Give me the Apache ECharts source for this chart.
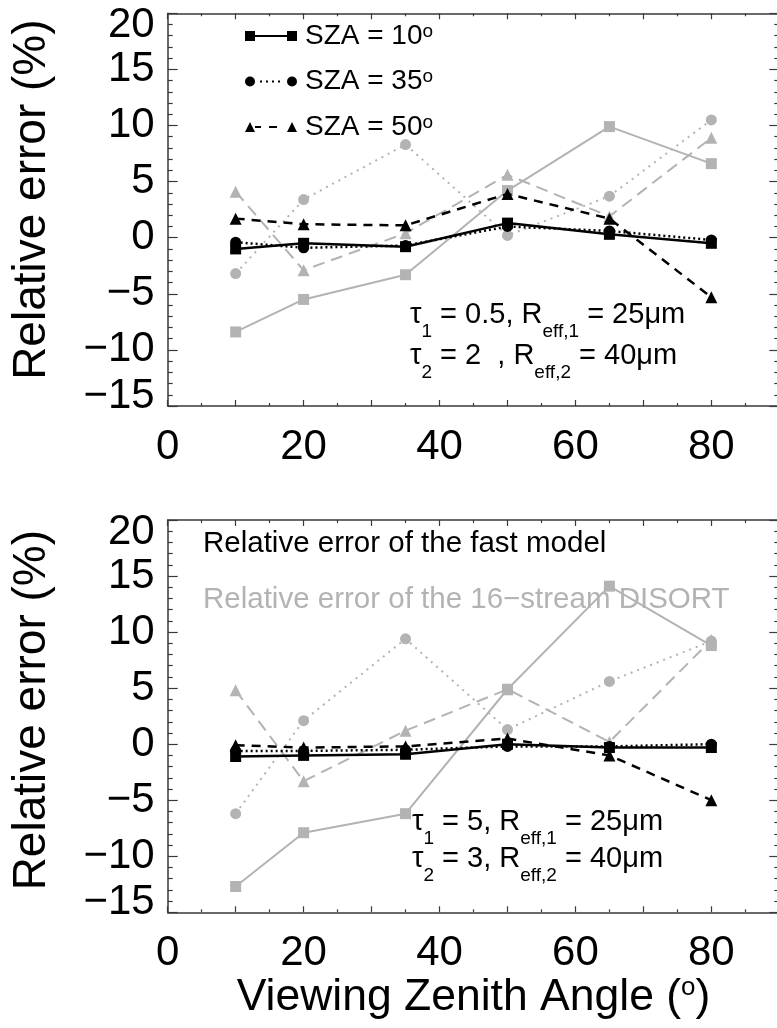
<!DOCTYPE html>
<html><head><meta charset="utf-8">
<script src="https://cdn.jsdelivr.net/npm/echarts@6/dist/echarts.min.js"></script>
<style>html,body{margin:0;padding:0;background:#fff}#c{width:777px;height:1028px}</style>
</head><body><div id="c"></div>
<script>
// ---------- data ----------
const vza = [10, 20, 35, 50, 65, 80];
const xLabelTicks = [0, 20, 40, 60, 80];
const yLabelTicks = [-15, -10, -5, 0, 5, 10, 15, 20];
const legendNames = ['SZA = 10°', 'SZA = 35°', 'SZA = 50°'];
const legendTexts = ['SZA = 10', 'SZA = 35', 'SZA = 50'];

// top panel: tau1=0.5, tau2=2
const topFast10 = [-1.0, -0.5, -0.8, 1.3, 0.3, -0.5];
const topFast35 = [-0.4, -0.9, -0.7, 1.0, 0.6, -0.2];
const topFast50 = [1.7, 1.2, 1.1, 3.9, 1.7, -5.3];
const topDis10 = [-8.4, -5.5, -3.3, 4.2, 9.9, 6.6];
const topDis35 = [-3.2, 3.4, 8.3, 0.2, 3.7, 10.5];
const topDis50 = [4.1, -2.9, 0.4, 5.6, 1.9, 8.9];

// bottom panel: tau1=5, tau2=3
const botFast10 = [-1.1, -1.0, -0.9, 0.0, -0.3, -0.3];
const botFast35 = [-0.6, -0.6, -0.5, -0.2, -0.2, 0.0];
const botFast50 = [-0.1, -0.3, -0.2, 0.5, -1.0, -5.0];
const botDis10 = [-12.7, -7.9, -6.2, 4.9, 14.1, 8.8];
const botDis35 = [-6.2, 2.1, 9.4, 1.3, 5.6, 9.2];
const botDis50 = [4.8, -3.3, 1.2, 4.9, 0.2, 9.3];

// ---------- styles ----------
const FONT = "'Liberation Sans', Arial, Helvetica, sans-serif";
const GREY = '#b3b3b3';
const AXC = '#3a3a3a';

const sqIcon = 'path://M0,0H10V10H0Z M42,0H52V10H42Z M10,4H42V6H10Z';
const ciIcon = 'path://M0,5A5,5 0 1,1 10,5A5,5 0 1,1 0,5Z M42,5A5,5 0 1,1 52,5A5,5 0 1,1 42,5Z M15,4H17V6H15Z M21,4H23V6H21Z M27,4H29V6H27Z M33,4H35V6H33Z';
const trIcon = 'path://M0,10L5,0L10,10Z M42,10L47,0L52,10Z M10,4H16V6H10Z M24,4H32V6H24Z';

const fmtNum = v => (v < 0 ? '\u2212' + Math.abs(v) : String(v));

function mkX(gi, pos, showLabel) {
  return {
    type: 'value', gridIndex: gi, position: pos, min: 0, max: 90, interval: 10,
    axisLine: { show: true, onZero: false, lineStyle: { color: AXC, width: 1.5 } },
    axisTick: { show: true, inside: true, length: 6, lineStyle: { color: AXC, width: 1.2 } },
    minorTick: { show: true, splitNumber: 2, length: 3, lineStyle: { color: AXC, width: 1.2 } },
    splitLine: { show: false },
    axisLabel: {
      show: showLabel, margin: 20, fontSize: 42, color: '#000', fontFamily: FONT,
      formatter: v => (xLabelTicks.indexOf(v) >= 0 ? String(v) : '')
    }
  };
}
function mkY(gi, pos, showLabel, namePad) {
  return {
    type: 'value', gridIndex: gi, position: pos, min: -15, max: 20, interval: 5,
    axisLine: { show: true, onZero: false, lineStyle: { color: AXC, width: 1.5 } },
    axisTick: { show: true, inside: true, length: 10, lineStyle: { color: AXC, width: 1.2 } },
    minorTick: { show: true, splitNumber: 5, length: 5, lineStyle: { color: AXC, width: 1.2 } },
    splitLine: { show: false },
    name: showLabel ? 'Relative error (%)' : '',
    nameLocation: 'middle', nameGap: 112,
    nameTextStyle: { fontSize: 46, color: '#000', fontFamily: FONT, padding: [0, 0, 0, namePad || 0] },
    axisLabel: {
      show: showLabel, margin: 13, fontSize: 42, color: '#000', fontFamily: FONT,
      formatter: v => {
        if (yLabelTicks.indexOf(v) < 0) return '';
        const s = fmtNum(v);
        if (v === 20) return '{hi|' + s + '}';
        if (v === -15) return '{lo|' + s + '}';
        return s;
      },
      rich: {
        hi: { fontSize: 42, fontFamily: FONT, color: '#000', padding: [24, 0, 0, 0] },
        lo: { fontSize: 42, fontFamily: FONT, color: '#000', padding: [0, 0, 20, 0] }
      }
    }
  };
}

const lineDefs = {
  fast10: { symbol: 'rect', size: 11, color: '#000', width: 2.5, type: 'solid' },
  fast35: { symbol: 'circle', size: 11, color: '#000', width: 2.5, type: [2, 3] },
  fast50: { symbol: 'triangle', size: 12, color: '#000', width: 2.5, type: [9, 7] },
  dis10: { symbol: 'rect', size: 11, color: GREY, width: 2, type: 'solid' },
  dis35: { symbol: 'circle', size: 11, color: GREY, width: 2, type: [2, 5] },
  dis50: { symbol: 'triangle', size: 12, color: GREY, width: 2, type: [12, 7] }
};

function mkS(name, vals, gi, key, z) {
  const d = lineDefs[key];
  return {
    type: 'line', name: name, xAxisIndex: gi * 2, yAxisIndex: gi * 2,
    data: vza.map((x, i) => [x, vals[i]]),
    symbol: d.symbol, symbolSize: d.size, showAllSymbol: true,
    itemStyle: { color: d.color, borderWidth: 0 },
    lineStyle: { color: d.color, width: d.width, type: d.type },
    emphasis: { disabled: true }, animation: false, z: z
  };
}

const richAnn = {
  t: { fontSize: 29, fontFamily: FONT, color: '#000', lineHeight: 32, verticalAlign: 'top' },
  s: { fontSize: 19, fontFamily: FONT, color: '#000', lineHeight: 41, verticalAlign: 'bottom' }
};
function ann(x, y, txt) {
  return { type: 'text', left: x, top: y, z: 100,
    style: { text: txt, rich: richAnn, fill: '#000', font: '29px ' + FONT } };
}

const option = {
  backgroundColor: '#fff',
  animation: false,
  grid: [
    { left: 167.7, top: 13.3, width: 611.6, height: 392.7, outerBoundsMode: 'none', containLabel: false },
    { left: 167.7, top: 520, width: 611.6, height: 392.3, outerBoundsMode: 'none', containLabel: false }
  ],
  xAxis: [
    mkX(0, 'bottom', true), mkX(0, 'top', false),
    Object.assign(mkX(1, 'bottom', true), {
      name: 'Viewing Zenith Angle ({o|o})', nameLocation: 'middle', nameGap: 63,
      nameTextStyle: { fontSize: 44.5, color: '#000', fontFamily: FONT,
        rich: { o: { fontSize: 26, fontFamily: FONT, color: '#000', verticalAlign: 'top', lineHeight: 26 } } }
    }),
    mkX(1, 'top', false)
  ],
  yAxis: [
    mkY(0, 'left', true, 20), mkY(0, 'right', false),
    mkY(1, 'left', true, 12), mkY(1, 'right', false)
  ],
  legend: {
    orient: 'vertical', left: 245, top: 22, padding: 0,
    itemWidth: 52, itemHeight: 10, itemGap: 17.5,
    selectedMode: false,
    itemStyle: { borderWidth: 0 },
    data: [
      { name: legendNames[0], icon: sqIcon },
      { name: legendNames[1], icon: ciIcon },
      { name: legendNames[2], icon: trIcon }
    ],
    formatter: n => '{m|' + legendTexts[legendNames.indexOf(n)] + '}{s|o}',
    textStyle: {
      color: '#000', fontFamily: FONT, fontSize: 28, padding: [0, 0, 0, 3],
      rich: {
        m: { fontSize: 28, fontFamily: FONT, color: '#000', lineHeight: 28, verticalAlign: 'top' },
        s: { fontSize: 19, fontFamily: FONT, color: '#000', lineHeight: 19, verticalAlign: 'top' }
      }
    }
  },
  graphic: [
    ann(410, 300, '{t|τ}{s|1}{t| = 0.5, R}{s|eff,1}{t| = 25μm}'),
    ann(410, 341, '{t|τ}{s|2}{t| = 2  , R}{s|eff,2}{t| = 40μm}'),
    ann(412, 807, '{t|τ}{s|1}{t| = 5, R}{s|eff,1}{t| = 25μm}'),
    ann(412, 844, '{t|τ}{s|2}{t| = 3, R}{s|eff,2}{t| = 40μm}'),
    { type: 'text', left: 203, top: 529, z: 100,
      style: { text: 'Relative error of the fast model', fill: '#000', font: '29.5px ' + FONT } },
    { type: 'text', left: 203, top: 585, z: 100,
      style: { text: 'Relative error of the 16\u2212stream DISORT', fill: GREY, font: '29.5px ' + FONT } }
  ],
  series: [
    mkS('top dis10', topDis10, 0, 'dis10', 2),
    mkS('top dis35', topDis35, 0, 'dis35', 2),
    mkS('top dis50', topDis50, 0, 'dis50', 2),
    mkS(legendNames[0], topFast10, 0, 'fast10', 5),
    mkS(legendNames[1], topFast35, 0, 'fast35', 4),
    mkS(legendNames[2], topFast50, 0, 'fast50', 3),
    mkS('bot dis10', botDis10, 1, 'dis10', 2),
    mkS('bot dis35', botDis35, 1, 'dis35', 2),
    mkS('bot dis50', botDis50, 1, 'dis50', 2),
    mkS('bot fast10', botFast10, 1, 'fast10', 5),
    mkS('bot fast35', botFast35, 1, 'fast35', 4),
    mkS('bot fast50', botFast50, 1, 'fast50', 3)
  ]
};

const chart = echarts.init(document.getElementById('c'), null, { renderer: 'canvas' });
chart.setOption(option);
</script>
</body></html>
